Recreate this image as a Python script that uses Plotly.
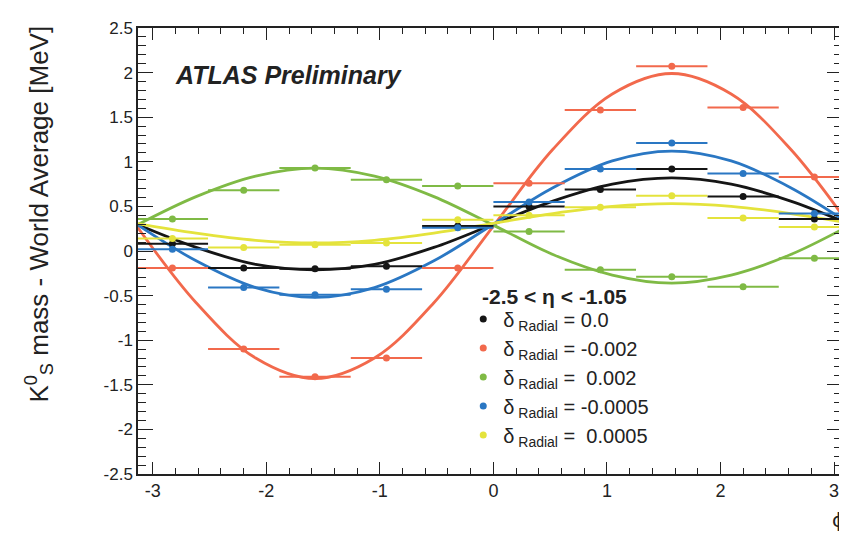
import plotly.graph_objects as go

# ---- data ----
phi_bins = [-2.827, -2.199, -1.571, -0.942, -0.314, 0.314, 0.942, 1.571, 2.199, 2.827]
phi_halfwidth = 0.314

black_pts  = [0.08, -0.19, -0.20, -0.17, 0.28, 0.50, 0.69, 0.92, 0.61, 0.36]
red_pts    = [-0.19, -1.10, -1.41, -1.20, -0.19, 0.76, 1.58, 2.07, 1.61, 0.83]
green_pts  = [0.36, 0.68, 0.93, 0.80, 0.73, 0.22, -0.21, -0.29, -0.40, -0.08]
blue_pts   = [0.02, -0.41, -0.49, -0.43, 0.26, 0.55, 0.92, 1.21, 0.87, 0.42]
yellow_pts = [0.14, 0.04, 0.07, 0.09, 0.35, 0.40, 0.49, 0.62, 0.37, 0.27]

# fitted curves
phi_curve = [-3.1416, -2.618, -2.094, -1.571, -1.047, -0.524, 0.0,
             0.524, 1.047, 1.571, 2.094, 2.618, 3.1416]
black_fit  = [0.30, 0.04, -0.15, -0.21, -0.15, 0.04, 0.30, 0.56, 0.75, 0.82, 0.75, 0.56, 0.30]
red_fit    = [0.28, -0.58, -1.20, -1.43, -1.20, -0.58, 0.28, 1.14, 1.76, 1.99, 1.76, 1.14, 0.28]
green_fit  = [0.29, 0.61, 0.84, 0.93, 0.84, 0.61, 0.29, -0.04, -0.27, -0.36, -0.27, -0.04, 0.29]
blue_fit   = [0.30, -0.11, -0.41, -0.52, -0.41, -0.11, 0.30, 0.71, 1.01, 1.12, 1.01, 0.71, 0.30]
yellow_fit = [0.31, 0.20, 0.12, 0.09, 0.12, 0.20, 0.31, 0.42, 0.50, 0.53, 0.50, 0.42, 0.31]

labels = ["δ<sub> Radial</sub> = 0.0",
          "δ<sub> Radial</sub> = -0.002",
          "δ<sub> Radial</sub> =  0.002",
          "δ<sub> Radial</sub> = -0.0005",
          "δ<sub> Radial</sub> =  0.0005"]
colors = ["#151515", "#f2694c", "#7fba45", "#2a77c3", "#e4e33c"]
points = [black_pts, red_pts, green_pts, blue_pts, yellow_pts]
fits = [black_fit, red_fit, green_fit, blue_fit, yellow_fit]

x_tickvals = [-3, -2, -1, 0, 1, 2, 3]
x_ticktext = ["-3", "-2", "-1", "0", "1", "2", "3"]
y_tickvals = [-2.5, -2, -1.5, -1, -0.5, 0, 0.5, 1, 1.5, 2, 2.5]
y_ticktext = ["-2.5", "-2", "-1.5", "-1", "-0.5", "0", "0.5", "1", "1.5", "2", "2.5"]

FONT = "Liberation Sans, Arial, sans-serif"

fig = go.Figure()

for col, fit in zip(colors, fits):
    fig.add_trace(go.Scatter(x=phi_curve, y=fit, mode="lines",
                             line=dict(color=col, width=2.8, shape="spline"),
                             showlegend=False, hoverinfo="skip"))

for lab, col, pts in zip(labels, colors, points):
    fig.add_trace(go.Scatter(
        x=phi_bins, y=pts, mode="markers", name=lab,
        marker=dict(color=col, size=7),
        error_x=dict(type="constant", value=phi_halfwidth, color=col,
                     thickness=2, width=0),
    ))

fig.update_layout(
    width=847, height=540,
    margin=dict(l=130, r=11, t=16, b=74),
    paper_bgcolor="white", plot_bgcolor="white",
    font=dict(family=FONT, color="#222"),
    showlegend=True,
    legend=dict(x=0.462, y=0.391, xanchor="left", yanchor="top",
                bgcolor="rgba(0,0,0,0)", font=dict(size=20, family=FONT, color="#222"),
                itemsizing="trace", tracegroupgap=0),
)

fig.update_xaxes(range=[-3.13, 3.07], showgrid=False, zeroline=False,
                 showline=True, linecolor="#222", linewidth=1.5, mirror="ticks",
                 ticks="inside", ticklen=12, tickwidth=1.3, tickcolor="#222",
                 tickmode="array", tickvals=x_tickvals, ticktext=x_ticktext,
                 minor=dict(dtick=0.2, tick0=0, ticks="inside", ticklen=6, tickcolor="#222", tickwidth=1),
                 tickfont=dict(size=18, family=FONT, color="#222"))
fig.update_yaxes(range=[-2.5, 2.5], showgrid=False, zeroline=False,
                 showline=True, linecolor="#222", linewidth=1.5, mirror="ticks",
                 ticks="inside", ticklen=15, tickwidth=1.3, tickcolor="#222",
                 tickmode="array", tickvals=y_tickvals, ticktext=y_ticktext,
                 minor=dict(dtick=0.1, tick0=0, ticks="inside", ticklen=8, tickcolor="#222", tickwidth=1),
                 tickfont=dict(size=17, family=FONT, color="#222"))

# texts
fig.add_annotation(text="<b><i>ATLAS Preliminary</i></b>", xref="paper", yref="paper",
                   x=(165 - 130) / 706, y=(466 - 63) / 450, xanchor="left", yanchor="middle",
                   showarrow=False, font=dict(size=25, family=FONT, color="#222"))
fig.add_annotation(text="<b>-2.5 < η < -1.05</b>", xref="paper", yref="paper",
                   x=(473 - 130) / 706, y=(466 - 287) / 450, xanchor="left", yanchor="middle",
                   showarrow=False, font=dict(size=21, family=FONT, color="#222"))
fig.add_annotation(text="K<sup>0</sup><sub>S</sub> mass - World Average [MeV]",
                   xref="paper", yref="paper", textangle=-90,
                   x=(31 - 130) / 706, y=(466 - 204) / 450, xanchor="center", yanchor="middle",
                   showarrow=False, font=dict(size=26, family=FONT, color="#222"))
fig.add_annotation(text="ϕ", xref="paper", yref="paper",
                   x=(832 - 130) / 706, y=(466 - 512) / 450, xanchor="center", yanchor="middle",
                   showarrow=False, font=dict(size=20, family="DejaVu Sans, sans-serif", color="#222"))

fig.write_html("out.html")
